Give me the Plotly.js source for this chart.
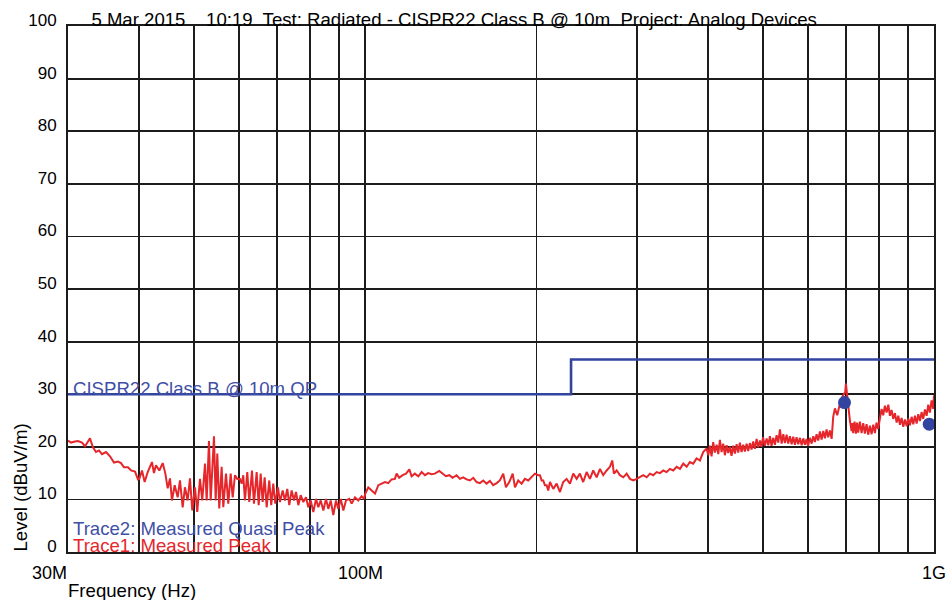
<!DOCTYPE html>
<html><head><meta charset="utf-8">
<script src="https://cdn.plot.ly/plotly-3.0.1.min.js"></script>
<style>html,body{margin:0;padding:0;background:#fff}#chart{width:947px;height:600px}</style>
</head><body><div id="chart"></div>
<script>
// Measured peak trace (frequency in MHz, level in dBuV/m)
const peakFreqMHz = [
30.00,30.37,30.86,31.24,31.75,32.14,32.53,32.79,33.19,33.60,34.01,34.43,34.99,35.56,36.14,36.73,37.18,37.63,38.25,38.72,39.35,39.83,
40.04,40.48,40.92,41.43,42.15,42.49,42.84,43.42,44.02,44.48,44.92,45.34,45.70,46.21,46.77,47.21,47.73,48.17,48.70,49.16,49.62,
50.16,50.63,51.19,51.67,52.24,52.60,53.09,53.46,54.18,54.55,54.91,55.35,55.89,56.26,56.88,57.41,57.97,58.44,58.99,59.54,
60.19,60.61,61.00,61.42,62.00,62.50,63.19,63.70,64.40,64.93,65.45,65.98,66.52,67.06,67.77,68.32,68.88,69.44,
70.20,70.77,71.55,72.22,72.90,73.49,74.21,74.91,75.52,76.23,76.97,77.79,78.65,79.38,
80.16,81.01,81.90,82.67,83.47,84.36,85.28,86.08,86.92,87.84,88.80,89.64,
90.51,91.47,92.47,93.71,94.62,95.89,97.17,98.52,99.44,
100.0,101.2,102.6,104.0,105.4,106.8,108.3,109.7,111.2,112.7,113.5,114.7,116.3,117.9,119.5,120.6,122.2,123.9,125.6,127.3,129.0,130.8,132.5,134.9,136.7,138.6,140.5,142.4,144.7,146.7,148.6,150.7,152.7,154.8,156.9,159.0,161.2,163.4,165.6,167.8,170.2,172.4,174.8,176.7,179.1,181.6,183.3,185.7,188.3,190.8,193.4,196.1,198.7,
201.4,202.8,204.2,205.5,206.9,208.4,209.7,211.2,214.0,217.0,219.9,222.8,225.9,229.0,232.1,235.3,238.4,241.6,245.0,248.3,251.6,255.1,258.6,262.0,265.7,269.2,271.8,273.6,276.7,280.4,284.2,288.1,292.0,295.9,300.0,
304.0,308.1,312.4,316.6,320.8,325.3,329.7,334.1,338.7,343.3,347.9,352.7,357.5,362.3,367.3,372.2,377.2,382.4,387.6,392.8,398.2,
401.0,403.6,406.3,409.0,411.8,414.7,417.5,420.3,423.1,425.9,428.8,431.8,434.7,437.6,440.5,443.5,446.6,449.7,452.7,455.7,458.7,461.8,465.0,468.2,471.3,474.5,477.7,480.9,484.2,487.6,490.9,494.2,497.3,
500.4,504.1,507.8,511.2,514.6,518.0,521.5,525.1,528.7,532.3,535.9,539.6,543.2,546.8,550.5,554.2,558.0,561.9,565.6,569.4,573.2,577.1,581.1,585.1,589.0,593.0,596.8,600.6,
605.0,609.3,613.4,617.5,621.6,625.8,630.1,634.4,638.7,643.0,647.3,651.6,656.1,660.7,664.9,669.5,675.8,683.2,690.7,698.0,700.0,
705.0,711.4,716.3,718.6,721.0,725.0,728.9,732.3,735.7,740.8,745.9,750.9,755.9,761.0,766.1,771.4,776.7,782.0,787.2,792.4,797.7,
803.3,808.7,814.1,819.7,825.4,831.0,836.5,842.1,847.8,853.7,859.6,865.4,871.2,877.1,883.0,889.1,895.3,901.3,907.3,913.4,919.5,925.8,932.2,938.4,944.7,951.0,957.3,964.0,970.6,977.1,983.6,990.2,996.8,1000
];
const peakLevel = [
21.2,20.8,21.0,21.1,20.8,20.1,21.0,21.6,19.9,19.0,19.3,18.6,19.0,18.2,17.0,17.2,16.9,16.1,16.1,15.5,15.3,13.8,
13.9,15.5,13.3,15.2,17.1,15.0,16.5,15.5,16.9,15.0,12.1,14.0,9.8,12.7,10.4,13.6,8.5,12.3,9.8,14.0,7.9,
12.3,7.6,13.9,9.8,16.8,9.8,21.1,9.8,22.0,9.8,18.7,8.3,16.2,8.5,14.9,9.2,14.9,10.4,14.6,13.9,
13.9,13.0,14.6,9.8,15.2,9.5,15.5,9.2,15.2,8.9,14.9,9.5,14.2,8.5,13.6,8.9,13.0,9.2,
12.3,9.5,11.7,9.8,12.0,8.9,11.7,9.8,11.4,8.9,10.8,9.5,10.4,8.5,
9.8,7.6,10.1,8.5,9.8,7.9,10.1,8.2,9.8,7.0,9.8,8.2,
10.1,7.9,9.8,10.1,9.2,10.4,9.8,10.6,10.1,
11.1,12.3,11.7,11.1,12.7,13.0,13.3,13.1,13.8,13.9,14.9,14.1,14.6,14.9,15.7,14.4,14.9,14.4,15.2,14.6,15.0,14.8,14.9,15.4,14.9,14.4,14.6,14.1,14.6,13.9,14.2,13.8,13.6,14.1,13.3,13.1,13.6,13.0,13.5,12.7,13.1,13.6,14.9,12.3,13.3,14.9,12.3,13.6,13.0,13.9,13.6,14.2,14.9,
14.6,14.6,13.6,13.6,12.7,12.7,11.7,13.3,12.0,13.0,11.4,13.3,13.9,13.0,14.9,13.9,14.9,13.3,15.2,13.9,15.5,14.2,15.8,14.6,15.5,16.2,17.4,14.9,15.5,14.6,14.2,14.9,13.9,13.6,13.9,
14.2,14.6,14.2,14.9,14.6,15.2,15.0,15.5,15.2,15.8,15.5,16.2,15.8,16.8,16.2,17.1,16.8,17.8,17.4,19.0,19.7,
18.4,20.2,18.2,20.9,18.9,20.4,18.6,21.3,19.0,20.6,18.4,20.3,18.8,20.0,18.3,20.2,18.7,20.5,18.9,20.8,19.0,20.4,19.1,20.6,19.2,20.7,19.5,21.0,19.6,21.5,19.9,21.2,20.0,
21.8,20.2,21.6,20.3,22.0,20.2,21.7,20.4,22.2,20.8,23.3,20.6,22.4,20.7,22.3,20.6,22.0,20.5,21.9,20.4,21.8,20.5,21.7,20.3,21.6,20.4,21.5,20.2,
21.7,20.6,22.0,20.9,22.4,21.2,22.9,21.4,23.0,21.6,23.3,21.8,23.1,21.5,25.7,27.3,26.0,28.2,29.6,30.4,32.0,
28.5,25.0,23.0,24.5,22.6,24.8,22.5,24.6,22.7,24.8,22.6,24.5,22.5,24.3,22.3,24.0,22.4,24.2,22.6,24.6,23.4,
25.6,27.2,26.0,27.8,26.5,28.0,25.9,27.0,25.3,26.4,24.6,25.9,24.2,25.5,23.8,25.2,23.9,25.4,24.1,25.7,24.3,25.9,24.4,26.2,24.9,26.6,25.3,27.1,25.9,28.0,26.5,28.8,27.2,29.8
];
// CISPR22 Class B @ 10m QP limit (step)
const limitFreqMHz = [30, 230, 1000];
const limitLevel = [30, 36.6, 36.6];
// Measured quasi-peak points
const qpFreqMHz = [696, 981];
const qpLevel = [28.4, 24.3];
// Axis grid / labels
const gridFreqMHz = [30,40,50,60,70,80,90,100,200,300,400,500,600,700,800,900,1000];
const xLabelFreqMHz = [30, 100, 1000];
const xLabelText = ['30M', '100M', '1G'];
const yTickVals = [0,10,20,30,40,50,60,70,80,90,100];
const yTickText = ['0','10','20','30','40','50','60','70','80','90','100'];

const FONT = 'Liberation Sans, Arial, sans-serif';
const RED = '#e5262b';
const BLUE = '#3343a0';
const TXTBLUE = '#3f4fa6';
const GRID = '#1c1c1c';
const TS = 18.6;

const traces = [
  {x: peakFreqMHz, y: peakLevel, type: 'scatter', mode: 'lines',
   line: {color: RED, width: 2}, name: 'Trace1: Measured Peak'},
  {x: limitFreqMHz, y: limitLevel, type: 'scatter', mode: 'lines',
   line: {color: BLUE, width: 2.6, shape: 'hv'}, name: 'CISPR22 Class B @ 10m QP'},
  {x: qpFreqMHz, y: qpLevel, type: 'scatter', mode: 'markers',
   marker: {color: BLUE, size: 13}, name: 'Trace2: Measured Quasi Peak'}
];

const xAnchors = ['right', 'center', 'center'];
const xShifts = [1, -5, 0];
const annotations = xLabelFreqMHz.map((f, i) => ({
  x: Math.log10(f), xref: 'x', y: -0.039, yref: 'paper',
  text: xLabelText[i], showarrow: false, xanchor: xAnchors[i], yanchor: 'middle',
  xshift: xShifts[i], font: {family: FONT, size: 18, color: '#000'}
}));
annotations.push(
  {x: 0, xref: 'paper', y: -0.073, yref: 'paper', text: 'Frequency (Hz)', showarrow: false,
   xanchor: 'left', yanchor: 'middle', xshift: -2, font: {family: FONT, size: TS, color: '#000'}},
  {x: -0.0554, xref: 'paper', y: 0.1226, yref: 'paper', text: 'Level (dBuV/m)', showarrow: false,
   textangle: -90, xanchor: 'center', yanchor: 'middle', font: {family: FONT, size: TS, color: '#000'}},
  {x: 0, xref: 'paper', y: 31.0, yref: 'y', text: 'CISPR22 Class B @ 10m QP', showarrow: false,
   xanchor: 'left', yanchor: 'middle', xshift: 3, font: {family: FONT, size: TS, color: TXTBLUE}},
  {x: 0, xref: 'paper', y: 4.56, yref: 'y', text: 'Trace2: Measured Quasi Peak', showarrow: false,
   xanchor: 'left', yanchor: 'middle', xshift: 3, font: {family: FONT, size: TS, color: TXTBLUE}},
  {x: 0, xref: 'paper', y: 1.33, yref: 'y', text: 'Trace1: Measured Peak', showarrow: false,
   xanchor: 'left', yanchor: 'middle', xshift: 3, font: {family: FONT, size: TS, color: RED}}
);

const layout = {
  width: 947, height: 600,
  margin: {l: 68, r: 13, t: 26, b: 48, pad: 0},
  paper_bgcolor: '#fff', plot_bgcolor: '#fff',
  showlegend: false,
  font: {family: FONT, size: 17, color: '#000'},
  title: {text: '5 Mar 2015\u00a0\u00a0\u00a0 10:19\u00a0 Test: Radiated - CISPR22 Class B @ 10m\u00a0 Project: Analog Devices',
          font: {family: FONT, size: TS, color: '#000'},
          xref: 'paper', x: 0.027, xanchor: 'left', yref: 'container', y: 0.967, yanchor: 'middle'},
  xaxis: {type: 'log', range: [Math.log10(30), Math.log10(1000)],
          tickvals: gridFreqMHz, ticktext: gridFreqMHz.map(() => ''),
          showgrid: true, gridcolor: GRID, gridwidth: 1.8,
          showline: true, mirror: true, linecolor: GRID, linewidth: 2,
          ticks: '', zeroline: false, fixedrange: true},
  yaxis: {range: [0, 100], tickvals: yTickVals, ticktext: yTickText,
          showgrid: true, gridcolor: GRID, gridwidth: 1.8,
          showline: true, mirror: true, linecolor: GRID, linewidth: 2,
          ticks: '', zeroline: false, ticklabelshift: -6, ticklabelstandoff: 6,
          tickfont: {family: FONT, size: 17, color: '#000'}, fixedrange: true},
  annotations: annotations
};

Plotly.newPlot('chart', traces, layout, {displayModeBar: false, staticPlot: true});
</script>
</body></html>
